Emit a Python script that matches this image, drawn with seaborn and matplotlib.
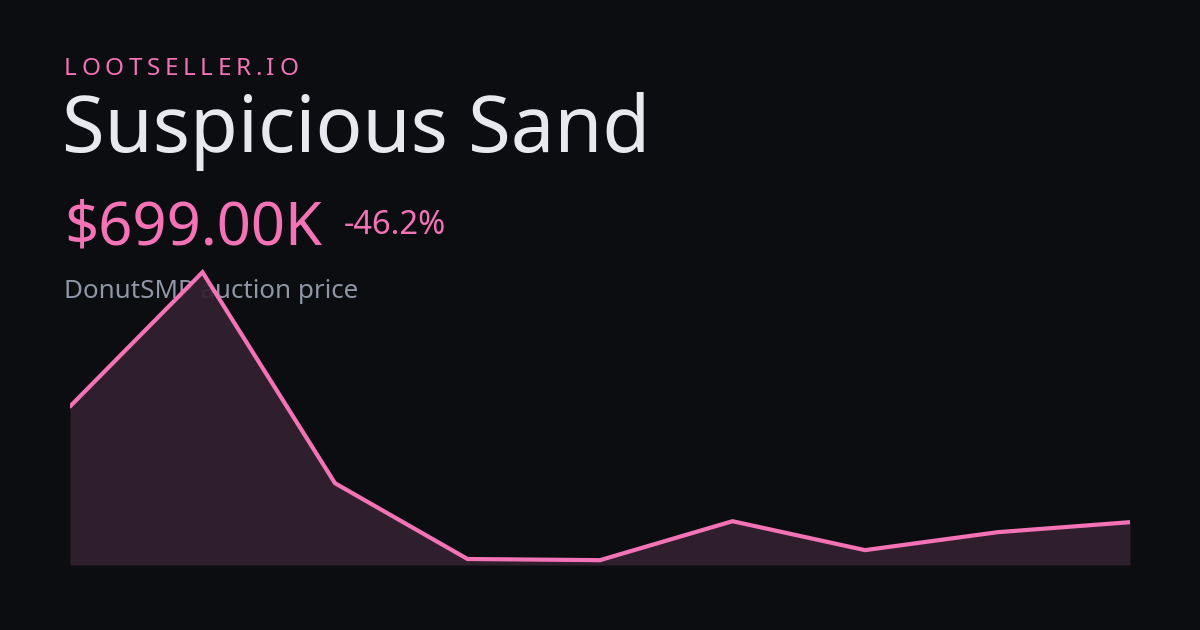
import numpy as np
import pandas as pd
import matplotlib
matplotlib.use("Agg")
import matplotlib.pyplot as plt
import seaborn as sns

# price history (thousands of $)
points = [0, 1, 2, 3, 4, 5, 6, 7, 8]
prices = [1299, 1995, 901, 508, 502, 704, 554, 647, 699]

brand = "LOOTSELLER.IO"
item_name = "Suspicious Sand"
price_label = "$699.00K"
change_label = "-46.2%"
subtitle = "DonutSMP auction price"

BG = "#0c0d10"
PINK = "#f472b6"
FILL = "#33202e"
WHITE = "#e8e9ee"
GREY = "#9096a6"

sns.set_theme(style="dark", rc={"axes.facecolor": BG, "figure.facecolor": BG})
plt.rcParams["font.family"] = ["Noto Sans", "DejaVu Sans"]

df = pd.DataFrame({"t": points, "price": prices})

W, H = 1200, 630
fig = plt.figure(figsize=(12, 6.3), dpi=100)

# chart area in pixels: x 70..1130, y 253..565 (from top)
ax = fig.add_axes([70 / W, (H - 565) / H, 1060 / W, (565 - 253) / H])
ax.set_zorder(5)
ax.patch.set_visible(False)
lo = min(prices) * 0.95
hi = max(prices) * 1.05
ax.fill_between(df["t"], df["price"], lo, color=FILL, lw=0, alpha=0.92)
sns.lineplot(data=df, x="t", y="price", ax=ax, color=PINK, lw=3, solid_joinstyle="miter")
ax.set_xlim(points[0], points[-1])
ax.set_ylim(lo, hi)
ax.set_axis_off()

def px(x, y):
    return x / W, 1 - y / H

# spaced brand text, drawn char by char
fig.canvas.draw()
r = fig.canvas.get_renderer()
x = 64
for ch in brand:
    t = fig.text(*px(x, 75), ch, color=PINK, fontsize=17.5, va="baseline", ha="left")
    w = t.get_window_extent(renderer=r).width
    x += w + 4.6

fig.text(*px(62, 152), item_name, color=WHITE, fontsize=56, va="baseline", ha="left")
fig.text(*px(64, 244), price_label, color=PINK, fontsize=43, va="baseline", ha="left")
fig.text(*px(344, 234), change_label, color=PINK, fontsize=23.5, va="baseline", ha="left")
fig.text(*px(64, 298), subtitle, color=GREY, fontsize=18.7, va="baseline", ha="left")

fig.savefig("out.png", dpi=100, facecolor=BG)
